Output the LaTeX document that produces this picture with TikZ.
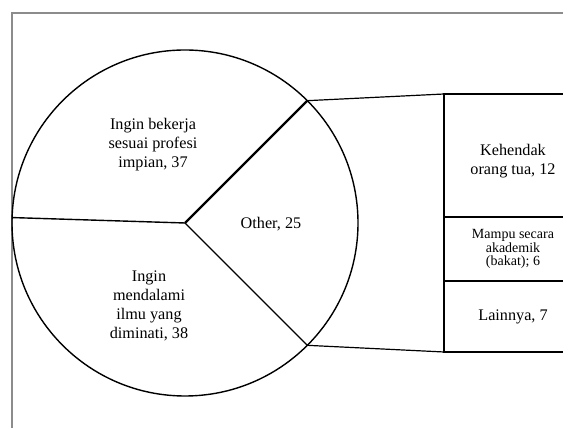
\documentclass[tikz,border=0pt]{standalone}
\usepackage{fontspec}
\setmainfont{Liberation Serif}
\usetikzlibrary{positioning}

\begin{document}
\begin{tikzpicture}[
      x=1pt, y=1pt,
      frame/.style={draw=black!45, line width=1.5pt},
      pieline/.style={draw=black, line width=1.4pt},
      segbox/.style={draw=black, line width=1.3pt, minimum width=138pt,
        outer sep=0pt, inner sep=2pt, align=center},
      biglabel/.style={align=center, font=\fontsize{16.2}{19}\selectfont},
      smalllabel/.style={align=center, font=\fontsize{14}{13.8}\selectfont},
      link/.style={draw=black, line width=1.2pt}
    ]
    \useasboundingbox (0,0) rectangle (563,428);
    \draw[frame] (12,-20) |- (600,415);

    % pie
    \coordinate (c) at (185,205);
    \draw[pieline] (c) circle[radius=173];
    \path (c) +(45:173) coordinate (pa)
              +(-45:173) coordinate (pb)
              +(178.2:173) coordinate (pl);
    \draw[pieline, line width=2.2pt] (c) -- (pa);
    \draw[pieline] (c) -- (pb);
    \draw[pieline] (c) -- (pl);

    \node[biglabel] (bekerja) at (153,283)
      {Ingin bekerja\\sesuai profesi\\impian, 37};
    \node[biglabel] (mendalami) at (149,122)
      {Ingin\\mendalami\\ilmu yang\\diminati, 38};
    \node[biglabel] (other) at (271,204) {Other, 25};

    % bar of pie
    \node[segbox, biglabel, minimum height=123pt, anchor=north west] (kehendak)
      at (444,334) {\rule{0pt}{22pt}Kehendak\\orang tua, 12};
    \node[segbox, smalllabel, minimum height=64pt, below=0pt of kehendak] (mampu)
      {Mampu secara\\akademik\\(bakat); 6};
    \node[segbox, biglabel, minimum height=71pt, below=0pt of mampu] (lainnya)
      {Lainnya, 7};

    \draw[link] (pa) -- (kehendak.north west);
    \draw[link] (pb) -- (lainnya.south west);
  \end{tikzpicture}
\end{document}
